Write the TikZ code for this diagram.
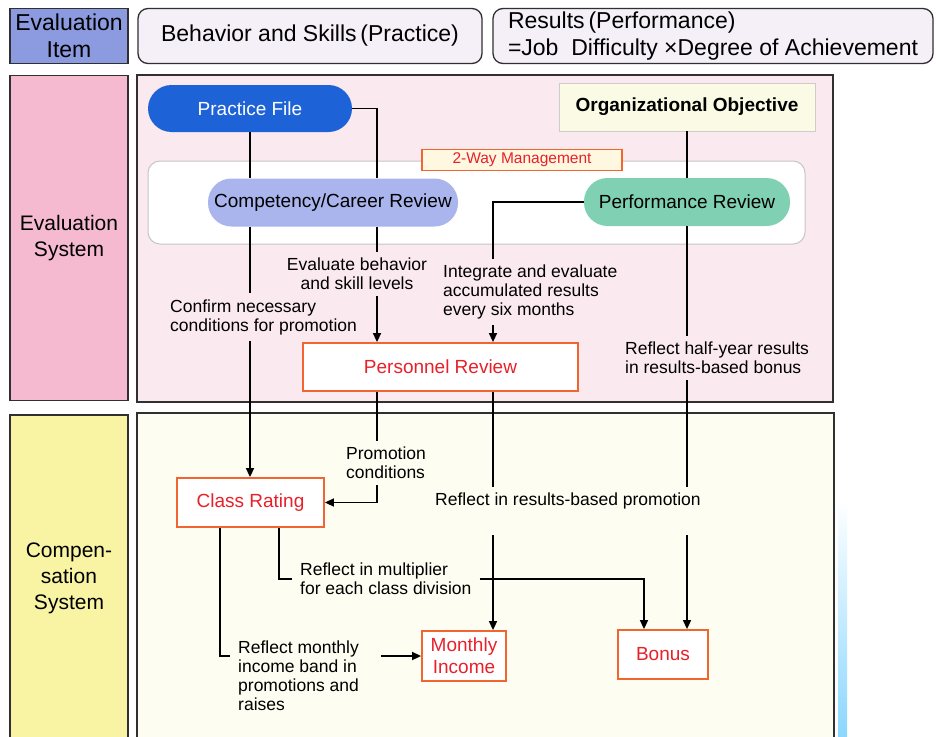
\documentclass[tikz,border=0pt]{standalone}
\usepackage{fontspec}
\setmainfont{Liberation Sans}
\usetikzlibrary{arrows.meta,calc}
\definecolor{itemblue}{HTML}{8C9BE0}
\definecolor{hdrfill}{HTML}{F5F0F8}
\definecolor{evlabel}{HTML}{F5B9D0}
\definecolor{evpanel}{HTML}{FBE9F0}
\definecolor{cplabel}{HTML}{F8F4A4}
\definecolor{cppanel}{HTML}{FDFDF1}
\definecolor{pfblue}{HTML}{1E62D8}
\definecolor{ccblue}{HTML}{A9B5EC}
\definecolor{prgreen}{HTML}{80D0B4}
\definecolor{ooyellow}{HTML}{FBFAE4}
\definecolor{redline}{HTML}{F26430}
\definecolor{redtext}{HTML}{E8202A}
\definecolor{twofill}{HTML}{FFF8E0}
\definecolor{frame}{HTML}{303030}
\tikzset{
  hdr/.style={draw=frame, line width=1.3pt, font=\fontsize{23}{27}\selectfont, inner sep=0pt, align=center},
  side/.style={draw=frame, line width=1.3pt, font=\fontsize{21}{26}\selectfont, inner sep=0pt, align=center, minimum width=118pt},
  pill/.style={rounded corners=23.5pt, font=\fontsize{19}{22}\selectfont, inner sep=0pt},
  redbox/.style={draw=redline, line width=1.8pt, fill=white, text=redtext, font=\fontsize{19}{22}\selectfont, inner sep=0pt, align=center},
  lab/.style={font=\fontsize{17.5}{19}\selectfont, align=left, inner xsep=8pt, inner ysep=6pt},
  conn/.style={line width=1.5pt, black},
  arr/.style={conn, -{Triangle[length=9pt,width=8pt]}}
}
\begin{document}
\begin{tikzpicture}[x=1pt,y=-1pt]
\useasboundingbox (0,0) rectangle (936,736);
\fill[white] (0,0) rectangle (936,736);
% header row
\node[hdr, fill=itemblue, minimum width=118pt, minimum height=55pt] (ei) at (69,36) {Evaluation\\Item};
\node[hdr, fill=hdrfill, rounded corners=10pt, minimum width=344pt, minimum height=55pt] (h1) at (310,36) {Behavior and Skills\,(Practice)};
\node[hdr, fill=hdrfill, rounded corners=10pt, minimum height=55pt, minimum width=440pt, align=left] (h2) at (713,36) {Results\,(Performance)\\=Job\ \ Difficulty\ ×Degree of Achievement};
% side labels
\node[side, fill=evlabel, minimum height=325pt] (es) at (69,238) {Evaluation\\System};
\node[side, fill=cplabel, minimum height=327pt] (cs) at (69,578.5) {Compen-\\sation\\System};
% panels
\draw[draw=frame, line width=1.3pt, fill=evpanel] (137,75) rectangle (833,402);
\draw[draw=frame, line width=1.3pt, fill=cppanel] (137,413) rectangle (834,745);
\shade[top color=white, bottom color=blue!35!cyan!45] (838,500) rectangle (847,736);
\draw[draw=gray!45, line width=1pt, fill=white, rounded corners=12pt] (148,161) rectangle (805,244);
% nodes
\node[pill, fill=pfblue, text=white, minimum width=204pt, minimum height=47pt] (pf) at (250,108.5) {Practice File};
\node[draw=gray!40, line width=0.8pt, fill=ooyellow, font=\bfseries\fontsize{19}{22}\selectfont, minimum width=256pt, minimum height=48pt, inner sep=0pt] (oo) at (687,107) {Organizational Objective};
\node[draw=redline, line width=1.5pt, fill=twofill, text=redtext, font=\fontsize{15.5}{18}\selectfont, minimum width=200pt, minimum height=21pt, inner sep=0pt] (tw) at (522,160) {2-Way Management};
\node[pill, fill=ccblue, minimum width=250pt, minimum height=48pt] (cc) at (333,202.5) {Competency/Career Review};
\node[pill, fill=prgreen, minimum width=206pt, minimum height=48pt] (pe) at (687,202) {Performance Review};
\node[redbox, minimum width=275pt, minimum height=48pt] (pr) at (440.5,367) {Personnel Review};
\node[redbox, minimum width=147pt, minimum height=49pt] (cr) at (250.5,502.5) {Class Rating};
\node[redbox, minimum width=84pt, minimum height=50pt] (mi) at (464,656) {Monthly\\Income};
\node[redbox, minimum width=90pt, minimum height=49pt] (bo) at (663,654.5) {Bonus};
% labels
\node[lab, anchor=west] (t1) at (162,317) {Confirm necessary\\conditions for promotion};
\node[lab, align=center] (t2) at (357,274) {Evaluate behavior\\and skill levels};
\node[lab, anchor=west] (t3) at (435,292) {Integrate and evaluate\\accumulated results\\every six months};
\node[lab, anchor=west] (t4) at (617,358) {Reflect half-year results\\in results-based bonus};
\node[lab, anchor=west] (t5) at (338,463) {Promotion\\conditions};
\node[lab, anchor=west] (t6) at (427,501) {Reflect in results-based promotion};
\node[lab, anchor=west] (t7) at (292,579) {Reflect in multiplier\\for each class division};
\node[lab, anchor=west] (t8) at (230,676) {Reflect monthly\\income band in\\promotions and\\raises};
% x positions
\coordinate (xa) at (377,0);
\coordinate (xb) at (493,0);
\coordinate (xd) at (279,0);
\coordinate (xe) at (644,0);
\coordinate (xf) at (220,0);
% connectors
\draw[conn] (pf.south) -- (pf.south |- cc.north);
\draw[conn] (pf.south |- cc.south) -- (pf.south |- t1.north);
\draw[arr] (pf.south |- t1.south) -- (pf.south |- cr.north);
\draw[conn] (pf.east) -| (xa |- cc.north);
\draw[conn] (xa |- cc.south) -- (xa |- t2.north);
\draw[arr] (xa |- t2.south) -- (xa |- pr.north);
\draw[conn] (pe.west) -| (xb |- t3.north);
\draw[arr] (xb |- t3.south) -- (xb |- pr.north);
\draw[conn] (oo.south) -- (pe.north);
\draw[conn] (pe.south) -- (pe.south |- t4.north);
\draw[conn] (pe.south |- t4.south) -- (pe.south |- t6.north);
\draw[arr] ($(pe.south |- t6.south)+(0,20)$) -- (pe.south |- bo.north);
\draw[conn] (xa |- pr.south) -- (xa |- t5.north);
\draw[arr] (xa |- t5.south) |- (cr.east);
\draw[conn] (xb |- pr.south) -- (xb |- t6.north);
\draw[arr] ($(xb |- t6.south)+(0,20)$) -- (xb |- mi.north);
\draw[conn] (xd |- cr.south) |- (t7.west);
\draw[arr] (t7.east) -| (xe |- bo.north);
\draw[conn] (xf |- cr.south) |- (t8.west |- mi.west);
\draw[arr] ($(t8.east |- mi.west)+(14,0)$) -- (mi.west);
\end{tikzpicture}
\end{document}
